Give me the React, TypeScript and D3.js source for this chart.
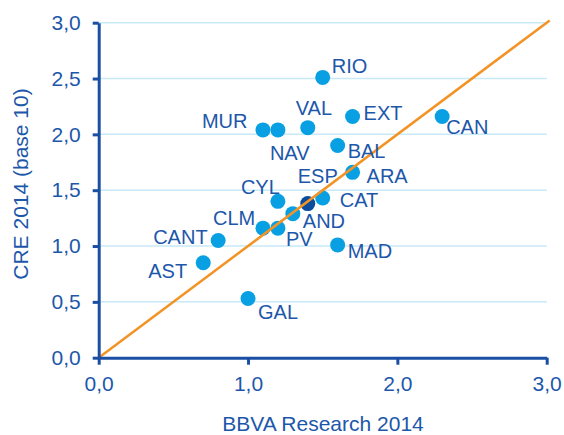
import React, { useRef, useEffect } from "react";
import * as d3 from "d3";

// regions, BBVA Research estimate (x) vs CRE (y)
const regions = ["RIO", "VAL", "EXT", "CAN", "MUR", "NAV", "BAL", "ARA", "ESP", "CAT", "CYL", "AND", "CLM", "PV", "CANT", "AST", "GAL", "MAD"];
const bbvaValues = [1.5, 1.4, 1.7, 2.3, 1.1, 1.2, 1.6, 1.7, 1.4, 1.5, 1.2, 1.3, 1.1, 1.2, 0.8, 0.7, 1.0, 1.6];
const creValues = [2.51, 2.06, 2.16, 2.16, 2.04, 2.04, 1.9, 1.66, 1.38, 1.43, 1.4, 1.29, 1.16, 1.16, 1.05, 0.85, 0.53, 1.01];
const xTicks = [0, 1, 2, 3];
const yTicks = [0, 0.5, 1, 1.5, 2, 2.5, 3];
const highlighted = "ESP";

// where each label sits relative to its dot (px)
const labelOffsets: Record<string, [number, number]> = {
  RIO: [9, -4], VAL: [-12, -13], EXT: [11, 3], CAN: [4, 17], MUR: [-61, -2],
  NAV: [-8, 30], BAL: [10, 12], ARA: [14, 11], ESP: [-10, -21], CAT: [17, 9],
  CYL: [-37, -7], AND: [10, 14], CLM: [-50, -3], PV: [8, 18], CANT: [-65, 4],
  AST: [-55, 15], GAL: [10, 20], MAD: [10, 13],
};

const FONT = "'Liberation Sans', Arial, sans-serif";
const TEXT = "#1d57aa";
const AXIS = "#1a4fa3";

function App() {
  const svgRef = useRef<SVGSVGElement>(null);

  useEffect(() => {
    const svg = d3.select(svgRef.current);
    svg.selectAll("*").remove();

    const x = d3.scaleLinear().domain([0, 3]).range([98.7, 546.7]);
    const y = d3.scaleLinear().domain([0, 3]).range([357.7, 22.7]);
    const fmt = (d: any) => d3.format(".1f")(d).replace(".", ",");

    // gridlines
    svg.append("g")
      .selectAll("line")
      .data(yTicks)
      .join("line")
      .attr("x1", x(0))
      .attr("x2", x(3))
      .attr("y1", (d) => y(d))
      .attr("y2", (d) => y(d))
      .attr("stroke", "#c8e9f8")
      .attr("stroke-width", 1.5);

    const data = regions.map((r, i) => ({ r, bx: bbvaValues[i], cy: creValues[i] }));

    svg.append("g")
      .selectAll("circle")
      .data(data)
      .join("circle")
      .attr("cx", (d) => x(d.bx))
      .attr("cy", (d) => y(d.cy))
      .attr("r", 7.5)
      .attr("fill", (d) => (d.r === highlighted ? "#0b4c9c" : "#08a0e2"));

    // 45 degree line
    svg.append("line")
      .attr("x1", x(0))
      .attr("y1", y(0))
      .attr("x2", x(3.02))
      .attr("y2", y(3.02))
      .attr("stroke", "#f39325")
      .attr("stroke-width", 2.5);

    svg.append("g")
      .selectAll("text")
      .data(data)
      .join("text")
      .attr("x", (d) => x(d.bx) + labelOffsets[d.r][0])
      .attr("y", (d) => y(d.cy) + labelOffsets[d.r][1])
      .attr("fill", TEXT)
      .attr("font-family", FONT)
      .attr("font-size", 20)
      .text((d) => d.r);

    const gx = svg.append("g")
      .attr("transform", `translate(0,${y(0)})`)
      .call(d3.axisBottom(x).tickValues(xTicks).tickFormat(fmt).tickSizeOuter(0).tickSizeInner(7).tickPadding(11));
    const gy = svg.append("g")
      .attr("transform", `translate(${x(0)},0)`)
      .call(d3.axisLeft(y).tickValues(yTicks).tickFormat(fmt).tickSizeOuter(0).tickSizeInner(6).tickPadding(12));

    [gx, gy].forEach((g) => {
      g.select(".domain").attr("stroke", AXIS).attr("stroke-width", 3);
      g.selectAll(".tick line").attr("stroke", AXIS).attr("stroke-width", 3);
      g.selectAll(".tick text")
        .attr("fill", TEXT)
        .attr("font-family", FONT)
        .attr("font-size", 21);
    });

    svg.append("text")
      .attr("x", 323)
      .attr("y", 431)
      .attr("text-anchor", "middle")
      .attr("fill", TEXT)
      .attr("font-family", FONT)
      .attr("font-size", 21)
      .text("BBVA Research 2014");

    svg.append("text")
      .attr("transform", "translate(28,184) rotate(-90)")
      .attr("text-anchor", "middle")
      .attr("fill", TEXT)
      .attr("font-family", FONT)
      .attr("font-size", 21)
      .text("CRE 2014 (base 10)");
  }, []);

  return (
    <svg
      ref={svgRef}
      width={564}
      height={435}
      style={{ position: "absolute", left: 0, top: 0, background: "#fff" }}
    ></svg>
  );
}

export default App;
